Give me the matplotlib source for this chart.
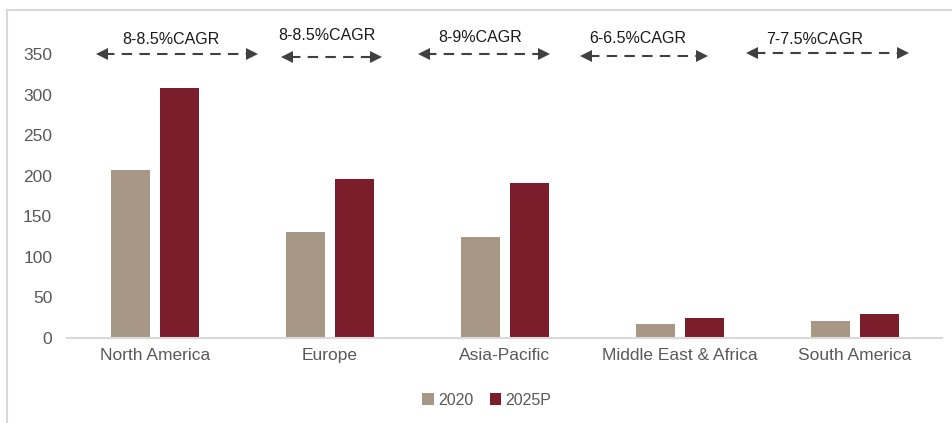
import numpy as np
from matplotlib import pyplot as plt
from matplotlib.lines import Line2D

plt.rcParams['font.family'] = ['Liberation Sans', 'DejaVu Sans']

regions = ['North America', 'Europe', 'Asia-Pacific', 'Middle East & Africa', 'South America']
v2020 = [207, 131, 125, 17, 21]
v2025 = [308, 196, 191, 25, 30]

cagr_labels = ['8-8.5%CAGR', '8-8.5%CAGR', '8-9%CAGR', '6-6.5%CAGR', '7-7.5%CAGR']
# arrow spans (x in category units) and heights
arrow_x0 = [-0.34, 0.72, 1.50, 2.43, 3.38]
arrow_x1 = [0.59, 1.30, 2.26, 3.16, 4.31]
arrow_y = [350, 346, 350, 348, 351]
text_x = [0.09, 0.98, 1.86, 2.76, 3.77]
text_y = [368, 373, 371, 369, 368]

c2020 = '#a69884'
c2025 = '#7b1d2a'

fig = plt.figure(figsize=(9.53, 4.23), dpi=100)
ax = fig.add_axes([0.0708, 0.201, 0.918, 0.767])

x = np.arange(len(regions))
w = 0.22
ax.bar(x - 0.14, v2020, w, color=c2020, label='2020', zorder=2)
ax.bar(x + 0.14, v2025, w, color=c2025, label='2025P', zorder=2)

ax.set_xlim(-0.5, 4.5)
ax.set_ylim(0, 400)
ax.set_yticks([0, 50, 100, 150, 200, 250, 300, 350])
ax.set_xticks(x)
ax.set_xticklabels(regions)
ax.tick_params(axis='both', length=0, labelsize=12.5, labelcolor='#595959')
ax.tick_params(axis='y', pad=11)
ax.tick_params(axis='x', pad=7)
for s in ['top', 'right', 'left']:
    ax.spines[s].set_visible(False)
ax.spines['bottom'].set_color('#d9d9d9')
ax.spines['bottom'].set_linewidth(1.5)

for lab, x0, x1, y, tx, ty in zip(cagr_labels, arrow_x0, arrow_x1, arrow_y, text_x, text_y):
    ax.plot([x0 + 0.05, x1 - 0.05], [y, y], ls=(0, (5, 3.5)), color='#404040', lw=1.5, clip_on=False)
    ax.plot([x0 + 0.035], [y], marker='<', ms=9, color='#404040', clip_on=False, mew=0)
    ax.plot([x1 - 0.035], [y], marker='>', ms=9, color='#404040', clip_on=False, mew=0)
    ax.text(tx, ty, lab, ha='center', va='center', fontsize=11.5, color='#1a1a1a')

leg = fig.legend(loc='center', bbox_to_anchor=(487 / 953, 1 - 400 / 423), ncol=2, frameon=False,
                 fontsize=11.5, handlelength=0.7, handleheight=0.8, handletextpad=0.3, columnspacing=1.0)
for t in leg.get_texts():
    t.set_color('#595959')

# frame edges from the source image
fig.add_artist(Line2D([7 / 953, 7 / 953], [0, 1 - 10 / 423], color='#d9d9d9', lw=1.5))
fig.add_artist(Line2D([7 / 953, 1], [1 - 10 / 423, 1 - 10 / 423], color='#d9d9d9', lw=1.5))

plt.savefig('out.png', dpi=100)
